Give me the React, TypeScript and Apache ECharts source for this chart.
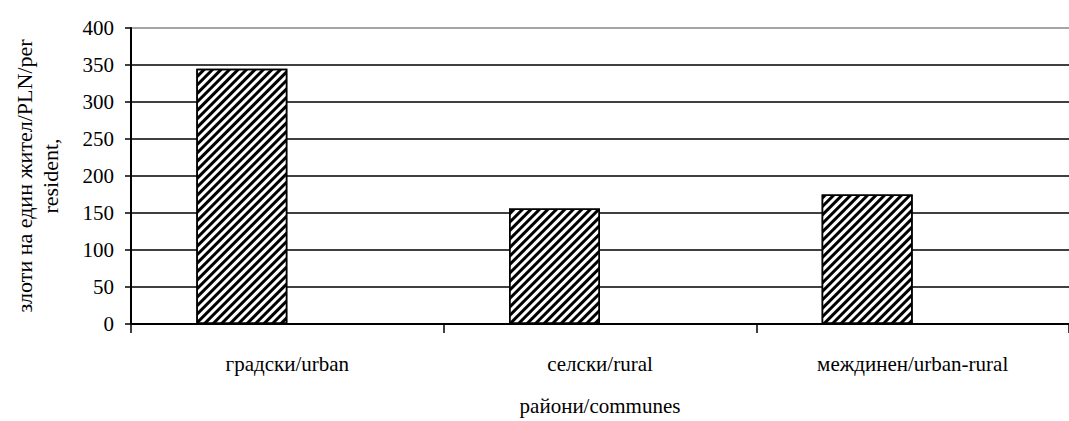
import React, { useEffect, useRef } from "react";
import * as echarts from "echarts";

const categories = ["градски/urban", "селски/rural", "междинен/urban-rural"];
const values = [345, 156, 175];
const emptyValues = [null, null, null];
const yTicks = { min: 0, max: 400, interval: 50 };
const yName = "злоти на един жител/PLN/per\nresident,";
const xName = "райони/communes";

const FONT = "Liberation Serif";

export default function App() {
  const ref = useRef<HTMLDivElement>(null);
  useEffect(() => {
    const chart = echarts.init(ref.current!, null, { renderer: "svg" });
    chart.setOption({
      animation: false,
      backgroundColor: "#fff",
      grid: { left: 131, top: 28, width: 951, height: 301, containLabel: false },
      xAxis: {
        type: "category",
        data: categories,
        boundaryGap: true,
        axisLine: { lineStyle: { color: "#000", width: 2 } },
        axisTick: { show: true, length: 9, lineStyle: { color: "#000", width: 1.5 } },
        axisLabel: { color: "#000", fontFamily: FONT, fontSize: 21, margin: 29 },
        name: xName,
        nameLocation: "middle",
        nameGap: 71,
        nameTextStyle: { color: "#000", fontFamily: FONT, fontSize: 21 },
      },
      yAxis: {
        type: "value",
        min: yTicks.min,
        max: yTicks.max,
        interval: yTicks.interval,
        axisLine: { show: true, lineStyle: { color: "#000", width: 2 } },
        axisTick: { show: true, length: 6, lineStyle: { color: "#000", width: 1.5 } },
        axisLabel: { color: "#000", fontFamily: FONT, fontSize: 21, margin: 17 },
        splitLine: {
          show: true,
          lineStyle: {
            color: ["#000", "#000", "#000", "#000", "#000", "#000", "#000", "#000", "#888"],
            width: 1.5,
          },
        },
        name: yName,
        nameLocation: "middle",
        nameGap: 68,
        nameRotate: 90,
        nameTextStyle: { color: "#000", fontFamily: FONT, fontSize: 22, lineHeight: 26 },
      },
      series: [
        {
          type: "bar",
          data: values,
          barWidth: 91,
          barGap: "0%",
          itemStyle: {
            color: "#fff",
            borderColor: "#000",
            borderWidth: 1.5,
            decal: {
              symbol: "rect",
              symbolSize: 1,
              dashArrayX: [1, 0],
              dashArrayY: [2.6, 2.1],
              rotation: -Math.PI / 4,
              color: "#000",
              backgroundColor: "#fff",
            },
          },
        },
        {
          type: "bar",
          data: emptyValues,
          barWidth: 91,
          barGap: "0%",
          itemStyle: { color: "#fff" },
        },
      ],
    });
    return () => chart.dispose();
  }, []);
  return (
    <div
      ref={ref}
      style={{ position: "fixed", left: 0, top: 0, width: 1069, height: 421 }}
    />
  );
}
